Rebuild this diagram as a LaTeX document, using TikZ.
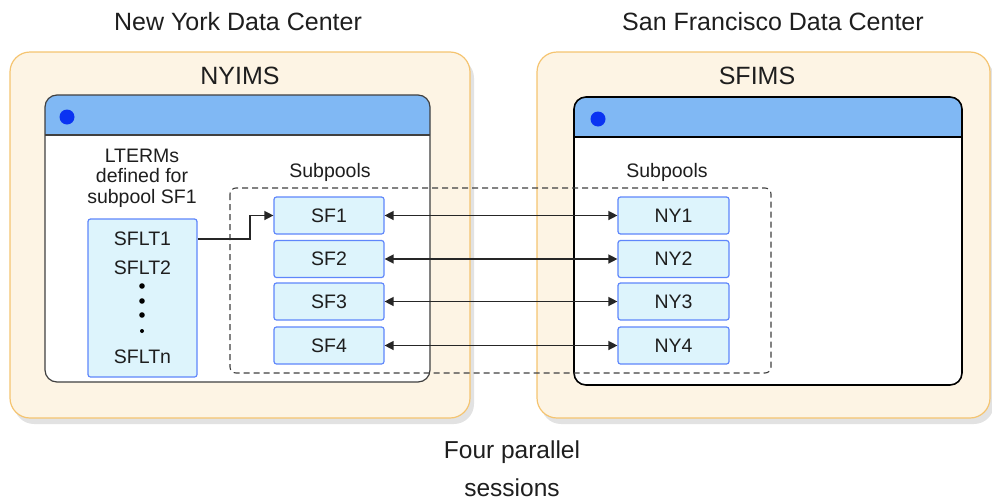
\documentclass[tikz,border=0pt]{standalone}
\usepackage{fontspec}
\setmainfont{Liberation Sans}
\usetikzlibrary{arrows.meta}
\definecolor{boxfill}{HTML}{FDF4E4}
\definecolor{boxline}{HTML}{F5C470}
\definecolor{shadowc}{HTML}{E2E2E2}
\definecolor{headblue}{HTML}{80B8F4}
\definecolor{dotblue}{HTML}{0A33F2}
\definecolor{cellfill}{HTML}{DDF4FC}
\definecolor{cellline}{HTML}{5F86FB}
\definecolor{txt}{HTML}{1E1E1E}
\tikzset{
  container/.style={draw=boxline, fill=boxfill, line width=1.2pt, rounded corners=20pt, inner sep=0pt},
  cell/.style={draw=cellline, fill=cellfill, line width=1.2pt, rounded corners=2.5pt, minimum width=110pt, minimum height=37pt, inner sep=0pt, font=\fontsize{19.5}{22}\selectfont, text=txt},
  big/.style={font=\fontsize{25}{29}\selectfont, text=txt},
  med/.style={font=\fontsize{19.5}{21}\selectfont, text=txt, align=center},
  conn/.style={line width=1.4pt, draw=black!85},
}
\begin{document}
\begin{tikzpicture}[x=1pt,y=-1pt]
\useasboundingbox (0,0) rectangle (992,501);
% shadows
\fill[shadowc, rounded corners=20pt] (14,58) rectangle (474,424);
\fill[shadowc, rounded corners=20pt] (541,58) rectangle (994,424);
% containers
\node[container, minimum width=460pt, minimum height=366pt] (nyc) at (240,235) {};
\node[container, minimum width=453pt, minimum height=366pt] (sfc) at (763.5,235) {};
\node[big] (nyt) at (238,22) {New York Data Center};
\node[big] (sft) at (773,22) {San Francisco Data Center};
\node[big] (nyims) at (240,76) {NYIMS};
\node[big] (sfims) at (757,76) {SFIMS};
% left window
\fill[white, rounded corners=12pt] (45,95) rectangle (430,382);
\fill[headblue] (45,135) {[rounded corners=12pt] -- (45,95) -- (430,95)} -- (430,135) -- cycle;
\draw[black!75, line width=1.2pt] (45,135) -- (430,135);
\draw[black!75, line width=1.2pt, rounded corners=12pt] (45,95) rectangle (430,382);
\fill[dotblue] (67,117) circle (7.5pt);
% right window
\fill[white, rounded corners=12pt] (574,97) rectangle (962,385);
\fill[headblue] (574,137) {[rounded corners=12pt] -- (574,97) -- (962,97)} -- (962,137) -- cycle;
\draw[black, line width=1.6pt] (574,137) -- (962,137);
\draw[black, line width=1.6pt, rounded corners=12pt] (574,97) rectangle (962,385);
\fill[dotblue] (598,119) circle (7.5pt);
% dashed subpool frame
\draw[black!75, line width=1.1pt, dash pattern=on 6pt off 4pt, rounded corners=6pt] (230,188) rectangle (771,373);
\node[med] (sublab1) at (330,172) {Subpools};
\node[med] (sublab2) at (667,172) {Subpools};
\node[med] (lterm) at (142,178) {LTERMs\\[-0.5pt]defined for\\[-0.5pt]subpool SF1};
% SFLT box
\node[cell, minimum width=109pt, minimum height=158pt] (sflt) at (142.5,298) {};
\node[med] (l1) at (142.5,239) {SFLT1};
\node[med] (l2) at (142.5,268) {SFLT2};
\node[med] (ln) at (142.5,357) {SFLTn};
\fill[black] (142,286) circle (2.8pt) (142,301) circle (2.8pt) (142,315) circle (2.8pt) (142,331) circle (2pt);
% cells
\foreach \i/\y in {1/215.5,2/259,3/301.5,4/345.5}{
  \node[cell] (sf\i) at (329,\y) {SF\i};
  \node[cell, minimum width=111pt] (ny\i) at (673.5,\y) {NY\i};
  \draw[conn, {Triangle[length=9pt,width=9pt]}-{Triangle[length=9pt,width=9pt]}] (sf\i.east) -- (ny\i.west);
}
\coordinate (bend) at (250,239);
\draw[conn, -{Triangle[length=9pt,width=9pt]}] (sflt.east |- l1) -- (bend) |- (sf1.west);
\node[big, align=center, font=\fontsize{24.5}{38}\selectfont] (four) at (512,469) {Four parallel\\sessions};
\end{tikzpicture}
\end{document}
